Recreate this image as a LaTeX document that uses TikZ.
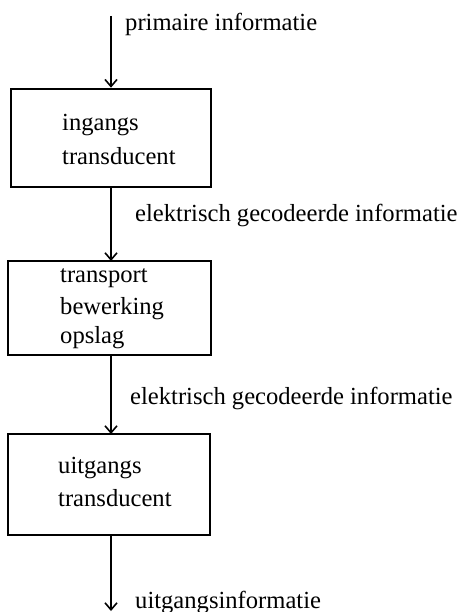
\documentclass[tikz,border=0pt]{standalone}
\usepackage{fontspec}
\setmainfont{Liberation Serif}
\usetikzlibrary{arrows.meta}
\begin{document}
\begin{tikzpicture}[x=1pt,y=-1pt,
  box/.style={draw,line width=2.6pt},
  flow/.style={line width=1.6pt,-{Straight Barb[length=7pt,width=12pt,line width=1.6pt]}},
  lbl/.style={anchor=west,inner sep=0pt,font=\fontsize{24.6}{28}\selectfont},
  txt/.style={anchor=west,inner sep=0pt,align=left,font=\fontsize{24.6}{32}\selectfont}]
\useasboundingbox (0,0) rectangle (467,612);
% boxes
\node[box,minimum width=200pt,minimum height=98pt,inner sep=0pt] (b1) at (111,138) {};
\node[box,minimum width=203pt,minimum height=94pt,inner sep=0pt] (b2) at (109.5,308) {};
\node[box,minimum width=202pt,minimum height=101pt,inner sep=0pt] (b3) at (109,484.5) {};
% box texts
\node[txt] (t1a) at (62,125) {ingangs};
\node[txt] (t1b) at (62,156) {transducent};
\node[txt] (t2a) at (60,278) {transport};
\node[txt] (t2b) at (60,309) {bewerking};
\node[txt] (t2c) at (60,338) {opslag};
\node[txt] (t3a) at (58,468) {uitgangs};
\node[txt] (t3b) at (58,498) {transducent};
% coordinates
\coordinate (top) at (111,16);
\coordinate (bot) at (111,611);
% arrows
\draw[flow] (top) -- (b1.north);
\draw[flow] (111,187) -- (111,261);
\draw[flow] (111,355) -- (111,434);
\draw[flow] (111,535) -- (bot);
% labels
\node[lbl] (l1) at (125,24) {primaire informatie};
\node[lbl] (l2) at (135,215) {elektrisch gecodeerde informatie};
\node[lbl] (l3) at (130,398) {elektrisch gecodeerde informatie};
\node[lbl] (l4) at (135,602) {uitgangsinformatie};
\end{tikzpicture}
\end{document}
